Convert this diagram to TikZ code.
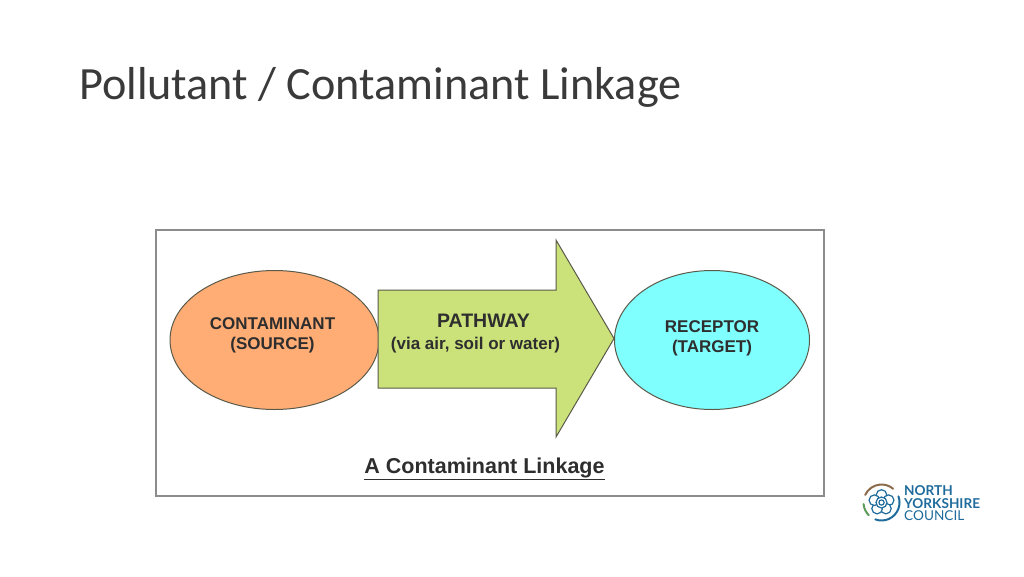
\documentclass[tikz,border=0pt]{standalone}
\usepackage{fontspec}
\setmainfont{Carlito}
\newfontfamily\figfont{Liberation Sans}
\newfontfamily\logofont{Lato}
\usetikzlibrary{shapes,positioning,calc}
\definecolor{SOURCECOLOR}{HTML}{FFAD75}
\definecolor{PATHCOLOR}{HTML}{CBE27A}
\definecolor{TARGETCOLOR}{HTML}{80FFFF}
\definecolor{FRAMECOLOR}{HTML}{8C8C8C}
\definecolor{EDGECOLOR}{HTML}{5A5A4A}
\definecolor{TEXTCOLOR}{HTML}{2E2E2E}
\definecolor{TITLECOLOR}{HTML}{3A3A3A}
\definecolor{LOGOBLUE}{HTML}{1F6C9C}
\definecolor{LOGOBROWN}{HTML}{8C6B4A}
\definecolor{LOGOGREEN}{HTML}{5F9B5A}
\tikzset{
  ellipse-style/.style = {
    ellipse, draw=EDGECOLOR, line width=1pt,
    fill=#1,
    minimum width=209pt,
    minimum height=139pt,
    inner sep=0pt
  },
  label-style/.style = {
    font=\figfont\bfseries\fontsize{#1}{20}\selectfont,
    text=TEXTCOLOR, inner sep=0pt, align=center
  },
  logo-style/.style = {
    font=\logofont\bfseries\fontsize{13.6}{12}\selectfont,
    text=LOGOBLUE, inner sep=0pt, anchor=west
  },
  ring-style/.style = {
    line width=2pt, line cap=round, draw=#1
  },
  petal-style/.style = {
    line width=1.2pt, draw=LOGOBLUE, fill=white
  }
}
\begin{document}
\begin{tikzpicture}[x=1pt,y=-1pt]
  \useasboundingbox[fill=white] (0,0) rectangle (1024,576);

  \node[anchor=west,inner sep=0pt,text=TITLECOLOR,font=\fontsize{46.2}{46.2}\selectfont] (title) at (79,87) {Pollutant / Contaminant Linkage};

  \draw[draw=FRAMECOLOR,line width=2pt,fill=white] (155.5,229.5) rectangle (824,496);

  \node[ellipse-style=SOURCECOLOR] (source) at (274.5,340) {};
  \node[ellipse-style=TARGETCOLOR,minimum width=195pt] (target) at (712,340) {};
  \draw[draw=EDGECOLOR,line width=1pt,fill=PATHCOLOR]
    (378,290) -- (556,290) -- (556,240) -- (614,338.5) -- (556,437) -- (556,388) -- (378,388) -- cycle;

  \node[label-style=17] (sourcetext) at (272.5,335) {CONTAMINANT\\(SOURCE)};
  \node[label-style=19.5] (pathname) at (483.5,321) {PATHWAY};
  \node[label-style=17] (pathtext) at (475.5,345) {(via air, soil or water)};
  \node[label-style=17] (targettext) at (712,338) {RECEPTOR\\(TARGET)};
  \node[label-style=21.5] (caption) at (484.5,468.5) {\underline{A Contaminant Linkage}};

  % logo
  \draw[ring-style=LOGOBROWN] (881.5,502.5) ++(-155:18) arc[start angle=-155,end angle=-50,radius=18];
  \draw[ring-style=LOGOGREEN] (881.5,502.5) ++(-185:18) arc[start angle=-185,end angle=-225,radius=18];
  \draw[ring-style=LOGOBLUE] (881.5,502.5) ++(-250:18) arc[start angle=-250,end angle=-380,radius=18];
  \foreach \a in {-90,-18,54,126,198}{
    \draw[petal-style] (881.5,502.5) ++(\a:7.5) circle[radius=5.3];
  }
  \draw[petal-style] (881.5,502.5) circle[radius=5.5];
  \draw[petal-style] (881.5,502.5) circle[radius=2.6];

  \node[logo-style] (logoa) at (904,491) {NORTH};
  \node[logo-style] (logob) at (904,503.5) {YORKSHIRE};
  \node[logo-style,font=\logofont\fontsize{13.6}{12}\selectfont] (logoc) at (904,516) {COUNCIL};
\end{tikzpicture}
\end{document}
